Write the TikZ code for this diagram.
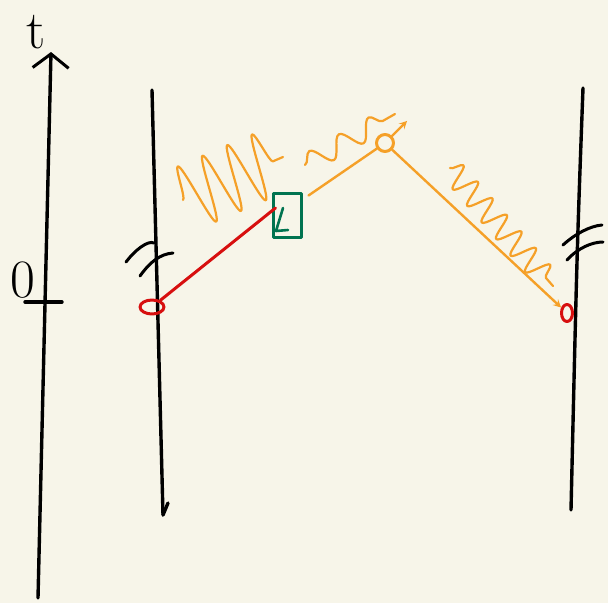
\documentclass[tikz,border=0pt]{standalone}
\usetikzlibrary{shapes,arrows,arrows.meta,decorations.pathmorphing,positioning}
\definecolor{paper}{RGB}{247,245,233}
\definecolor{inkred}{RGB}{215,15,15}
\definecolor{inkorange}{RGB}{245,160,40}
\definecolor{inkgreen}{RGB}{0,115,80}

\begin{document}
\begin{tikzpicture}[x=1pt, y=-1pt, >=stealth, line cap=round, line join=round]
    % Styles
    \tikzstyle{ink} = [draw=black, line width=3.4pt]
    \tikzstyle{cut} = [draw=black, line width=3pt]
    \tikzstyle{label} = [inner sep=0pt, font=\fontsize{54}{54}\selectfont]
    \tikzstyle{event} = [ellipse, draw=inkred, line width=3pt, inner sep=0pt]
    \tikzstyle{detector} = [rectangle, draw=inkgreen, line width=3pt, minimum width=28pt, minimum height=44pt, inner sep=0pt]
    \tikzstyle{bounce} = [circle, draw=inkorange, line width=3pt, minimum size=17pt, inner sep=0pt]
    \tikzstyle{beam} = [draw=inkorange, line width=2.4pt]
    \tikzstyle{photon} = [draw=inkorange, line width=2.2pt, decorate]

    \fill[paper] (0,0) rectangle (608,603);
    \useasboundingbox (0,0) rectangle (608,603);

    % Axis
    \coordinate (tfoot) at (38,598);
    \coordinate (ttop) at (51,52);
    \draw[ink, -{Straight Barb[length=14pt, width=36pt, line width=3pt]}] (tfoot) -- (ttop);
    \node[label] (tlabel) at (36,32) {t};
    \coordinate (tickl) at (25,302);
    \coordinate (tickr) at (62,302);
    \draw[ink] (tickl) -- (tickr);
    \node[label] (zero) at (23,280) {0};

    % Mirrors
    \coordinate (ltop) at (152,90);
    \coordinate (lbot) at (163,515);
    \coordinate (rtop) at (583,88);
    \coordinate (rbot) at (571,510);
    \draw[ink] (ltop) -- (lbot);
    \draw[ink] (lbot) -- ++(5pt,12pt);
    \draw[ink] (rtop) .. controls (577,250) .. (rbot);

    % Cuts
    \draw[cut] (126,262) .. controls (135,250) and (148,240) .. (154,243);
    \draw[cut] (140,276) .. controls (150,262) and (160,254) .. (173,253);
    \draw[cut] (563,245) .. controls (575,234) and (590,226) .. (602,225);
    \draw[cut] (567,260) .. controls (578,248) and (592,242) .. (603,242);

    % Nodes
    \node[event, minimum width=24pt, minimum height=14pt] (emit) at (152,307) {};
    \node[detector] (box) at (287,215) {};
    \draw[draw=inkgreen, line width=2.6pt] (283,208) -- (276,231) -- (288,230);
    \node[bounce] (turn) at (385,143) {};
    \node[event, minimum width=11pt, minimum height=17pt] (absorb) at (567,313) {};

    % Edges
    \draw[draw=inkred, line width=3pt] (emit) -- ([shift={(4pt,7pt)}]box.west);
    \draw[beam] ([shift={(6pt,-4pt)}]box.north east) -- (turn);
    \draw[beam, ->] (turn) -- (absorb);
    \draw[beam, ->] (turn.north east) -- ++(15pt,15pt);

    % Photons
    \draw[photon, decoration={snake, segment length=27pt, amplitude=33pt}] (183,200) -- (283,157);
    \draw[photon, decoration={snake, segment length=34pt, amplitude=10pt}] (305,165) -- (395,114);
    \draw[photon, decoration={snake, segment length=22pt, amplitude=12pt}] (450,168) -- (553,286);
\end{tikzpicture}
\end{document}
